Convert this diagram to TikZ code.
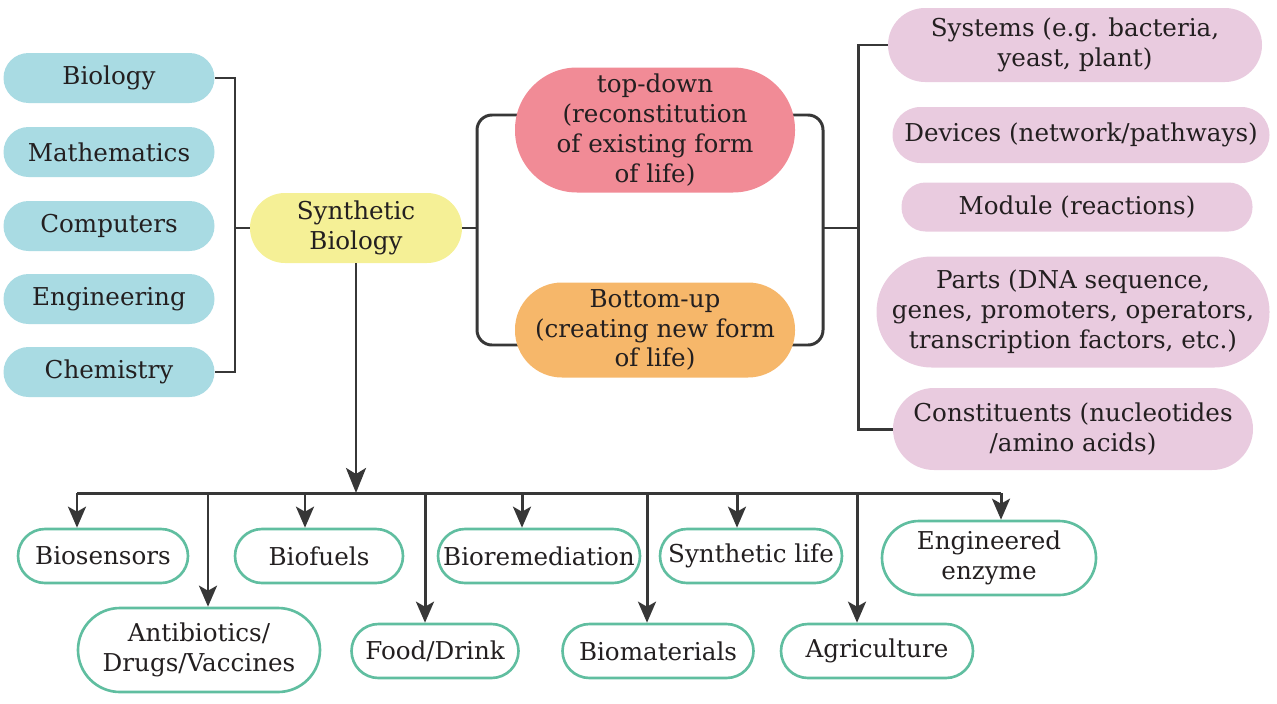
\documentclass[tikz,border=0pt]{standalone}
\usepackage{fontspec}
\setmainfont{DejaVu Serif}
\usepackage{tikz}
\usetikzlibrary{arrows.meta}

\definecolor{fieldcol}{RGB}{169,219,227}
\definecolor{synthcol}{RGB}{245,240,150}
\definecolor{topcol}{RGB}{241,139,150}
\definecolor{botcol}{RGB}{246,183,106}
\definecolor{levelcol}{RGB}{233,203,223}
\definecolor{usecol}{RGB}{96,190,160}
\definecolor{linecol}{RGB}{55,55,55}
\definecolor{textcol}{RGB}{35,31,32}

\pgfdeclarelayer{bg}
\pgfsetlayers{bg,main}

\begin{document}
\begin{tikzpicture}[x=0.02cm,y=-0.02cm,>={Stealth[length=0.42cm,width=0.36cm,inset=0.1cm]},
    pill/.style={rectangle,inner sep=0pt,align=center,text=textcol,
        font=\fontsize{14pt}{17pt}\selectfont},
    conn/.style={draw=linecol,line width=1.7pt}]
        \def\px{0.02cm}
        \useasboundingbox (0,0) rectangle (1277,703);

        % fields
        \foreach \n/\y/\t in {bio/78/Biology,math/152/Mathematics,comp/226/Computers,eng/299/Engineering,chem/372/Chemistry}
            \node[pill,fill=fieldcol,minimum width=211*\px,minimum height=50*\px,rounded corners=25*\px] (\n) at (109,\y) {\t};

        \node[pill,fill=synthcol,minimum width=212*\px,minimum height=70*\px,rounded corners=35*\px] (syn) at (356,228) {Synthetic\\Biology};

        \node[pill,fill=topcol,minimum width=280*\px,minimum height=125*\px,rounded corners=62*\px] (td) at (655,130) {top-down\\(reconstitution\\of existing form\\of life)};
        \node[pill,fill=botcol,minimum width=280*\px,minimum height=95*\px,rounded corners=47*\px] (bu) at (655,330) {Bottom-up\\(creating new form\\of life)};

        % levels
        \node[pill,fill=levelcol,minimum width=374*\px,minimum height=74*\px,rounded corners=37*\px] (sys) at (1075,45) {Systems (e.g. bacteria,\\yeast, plant)};
        \node[pill,fill=levelcol,minimum width=377*\px,minimum height=56*\px,rounded corners=28*\px] (dev) at (1081,135) {Devices (network/pathways)};
        \node[pill,fill=levelcol,minimum width=351*\px,minimum height=49*\px,rounded corners=24*\px] (mod) at (1077,207) {Module (reactions)};
        \node[pill,fill=levelcol,minimum width=393*\px,minimum height=111*\px,rounded corners=55*\px] (prt) at (1073,312) {Parts (DNA sequence,\\genes, promoters, operators,\\transcription factors, etc.)};
        \node[pill,fill=levelcol,minimum width=360*\px,minimum height=82*\px,rounded corners=41*\px] (con) at (1073,429) {Constituents (nucleotides\\/amino acids)};

        % applications
        \foreach \n/\x/\y/\w/\h/\t in {bs/103/556/170/54/Biosensors,bf/319/556/168/54/Biofuels,br/539/556/202/54/Bioremediation,
                sl/751/556/182/54/Synthetic life,ee/989/558/214/74/Engineered\\enzyme,ab/199/650/242/84/{Antibiotics/\\Drugs/Vaccines},
                fd/435/651/167/54/{Food/Drink},bm/658/651/191/54/Biomaterials,ag/877/651/192/54/Agriculture}
            \node[pill,draw=usecol,line width=1.5pt,fill=white,minimum width=\w*\px,minimum height=\h*\px,rounded corners=\h/2*\px] (\n) at (\x,\y) {\t};

        \begin{pgfonlayer}{bg}
        \coordinate (lj) at (235,228);
        \draw[conn] (bio.east) -- (bio.east -| lj) -- (chem.east -| lj) -- (chem.east);
        \draw[conn] (lj) -- (syn.west);

        \coordinate (mt) at (477,115);
        \coordinate (mb) at (477,345);
        \coordinate (nt) at (823,115);
        \coordinate (nb) at (823,345);
        \coordinate (rj) at (858,228);
        \draw[conn,rounded corners=0.3cm] (td.center |- mt) -- (mt) -- (mb) -- (bu.center |- mb);
        \draw[conn,rounded corners=0.3cm] (td.center |- nt) -- (nt) -- (nb) -- (bu.center |- nb);
        \draw[conn] (syn.east) -- (syn.east -| mt);
        \draw[conn] (rj -| nt) -- (rj);
        \draw[conn] (sys.west) -- (sys.west -| rj) -- (con.west -| rj) -- (con.west);
        \end{pgfonlayer}

        \foreach \x/\n in {77/bs,208/ab,305/bf,425/fd,522/br,647/bm,737/sl,857/ag,1001/ee}{
            \coordinate (bus-\n) at (\x,493);
            \draw[conn,->] (bus-\n) -- (bus-\n |- \n.north);
        }
        \draw[conn] (bus-bs) -- (bus-ee);
        \draw[conn,-{Stealth[length=0.5cm,width=0.4cm,inset=0.12cm]}] (syn.south) -- (syn.south |- bus-bs);

    \end{tikzpicture}
\end{document}
